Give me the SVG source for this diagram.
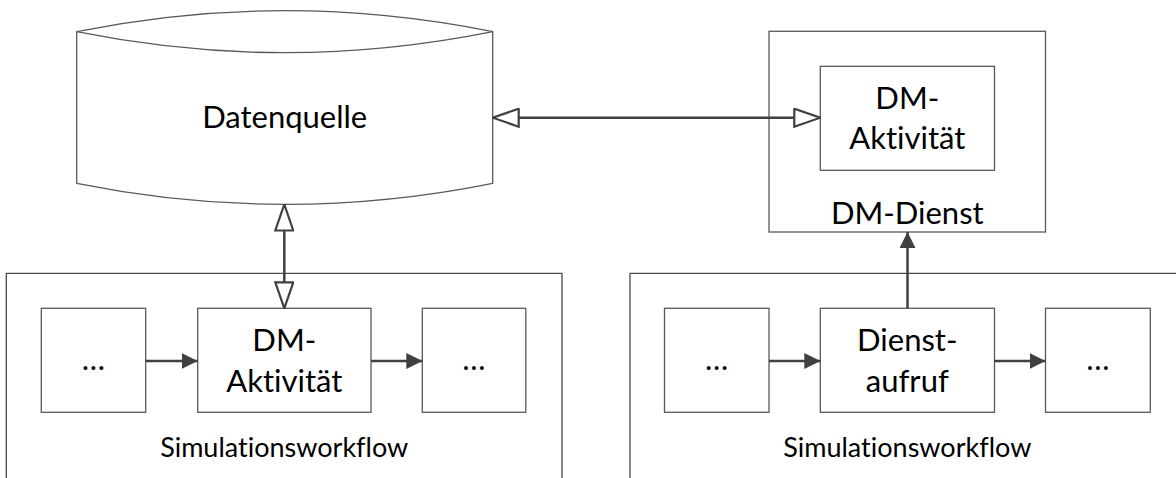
<svg xmlns="http://www.w3.org/2000/svg" width="1176" height="478" viewBox="0 0 1176 478">
  <style>
    .box { fill: #ffffff; stroke: #595959; stroke-width: 1.3; }
    .frame { fill: none; stroke: #4a4a4a; stroke-width: 1.3; }
    .store { fill: #ffffff; stroke: #595959; stroke-width: 1.3; }
    .lbl { font-family: Lato, "Open Sans", "Liberation Sans", sans-serif; font-size: 31px; fill: #000000; text-anchor: middle; font-variant-ligatures: none; }
    .cap { font-family: Lato, "Open Sans", "Liberation Sans", sans-serif; font-size: 27px; fill: #000000; text-anchor: middle; font-variant-ligatures: none; }
    .link { fill: none; stroke: #404040; stroke-width: 2.5; }
  </style>
  <defs>
    <marker id="open" markerUnits="userSpaceOnUse" markerWidth="28" markerHeight="20" viewBox="0 0 28 20" refX="27" refY="10" orient="auto-start-reverse">
      <path d="M1,1 L27,10 L1,19 Z" fill="#ffffff" stroke="#404040" stroke-width="2.2" stroke-linejoin="miter"/>
    </marker>
    <marker id="solid" markerUnits="userSpaceOnUse" markerWidth="16" markerHeight="16" viewBox="0 0 16 16" refX="16" refY="8" orient="auto">
      <path d="M0,0 L16,8 L0,16 Z" fill="#404040"/>
    </marker>
  </defs>

  <rect width="1176" height="478" fill="#ffffff"/>

  <!-- data store (cylinder seen from the side) -->
  <g id="datenquelle">
    <path class="store" d="M76.7,31.7 Q284.7,-10.3 492.7,31.7 L492.7,183.3 Q284.7,225.3 76.7,183.3 Z"/>
    <path class="store" fill="none" d="M76.7,31.7 Q284.7,73.7 492.7,31.7"/>
    <text class="lbl" x="284.7" y="128.3">Datenquelle</text>
  </g>

  <!-- service container -->
  <g id="dm-dienst">
    <rect class="box" x="769" y="31.3" width="276.5" height="200.7"/>
    <text class="lbl" x="907.3" y="224">DM-Dienst</text>
  </g>
  <g id="dm-aktivitaet-dienst">
    <rect class="box" x="820.3" y="66.3" width="174.2" height="104"/>
    <text class="lbl" x="907.3" y="108.5">DM-</text>
    <text class="lbl" x="907.3" y="149">Aktivität</text>
  </g>

  <!-- left workflow -->
  <g id="workflow-links">
    <path class="frame" d="M6.3,490 L6.3,273.3 L562,273.3 L562,490"/>
    <text class="cap" x="284.2" y="456.5">Simulationsworkflow</text>
  </g>
  <g id="links-vor">
    <rect class="box" x="41.3" y="308.3" width="104.4" height="104"/>
    <text class="lbl" x="93.5" y="370">…</text>
  </g>
  <g id="dm-aktivitaet-workflow">
    <rect class="box" x="197.7" y="308.3" width="173.3" height="104"/>
    <text class="lbl" x="284.3" y="351">DM-</text>
    <text class="lbl" x="284.3" y="391.5">Aktivität</text>
  </g>
  <g id="links-nach">
    <rect class="box" x="422.3" y="308.3" width="103.5" height="104"/>
    <text class="lbl" x="474" y="370">…</text>
  </g>

  <!-- right workflow -->
  <g id="workflow-rechts">
    <path class="frame" d="M630,490 L630,273.3 L1190,273.3"/>
    <text class="cap" x="907.3" y="456.5">Simulationsworkflow</text>
  </g>
  <g id="rechts-vor">
    <rect class="box" x="664.5" y="308.3" width="104.5" height="104"/>
    <text class="lbl" x="716.7" y="370">…</text>
  </g>
  <g id="dienstaufruf">
    <rect class="box" x="820.3" y="308.3" width="174.2" height="104"/>
    <text class="lbl" x="907.3" y="351">Dienst-</text>
    <text class="lbl" x="907.3" y="391.5">aufruf</text>
  </g>
  <g id="rechts-nach">
    <rect class="box" x="1045.5" y="308.3" width="104.8" height="104"/>
    <text class="lbl" x="1097.9" y="370">…</text>
  </g>

  <!-- connectors -->
  <g id="connectors">
    <path class="link" d="M492.7,117.7 L820.3,117.7" marker-start="url(#open)" marker-end="url(#open)"/>
    <path class="link" d="M284.3,204.5 L284.3,308.3" marker-start="url(#open)" marker-end="url(#open)"/>
    <path class="link" d="M145.7,361 L197.7,361" marker-end="url(#solid)"/>
    <path class="link" d="M371,361 L422.3,361" marker-end="url(#solid)"/>
    <path class="link" d="M769,361 L820.3,361" marker-end="url(#solid)"/>
    <path class="link" d="M994.5,361 L1045.5,361" marker-end="url(#solid)"/>
    <path class="link" d="M907.5,308.3 L907.5,232" marker-end="url(#solid)"/>
  </g>
</svg>
